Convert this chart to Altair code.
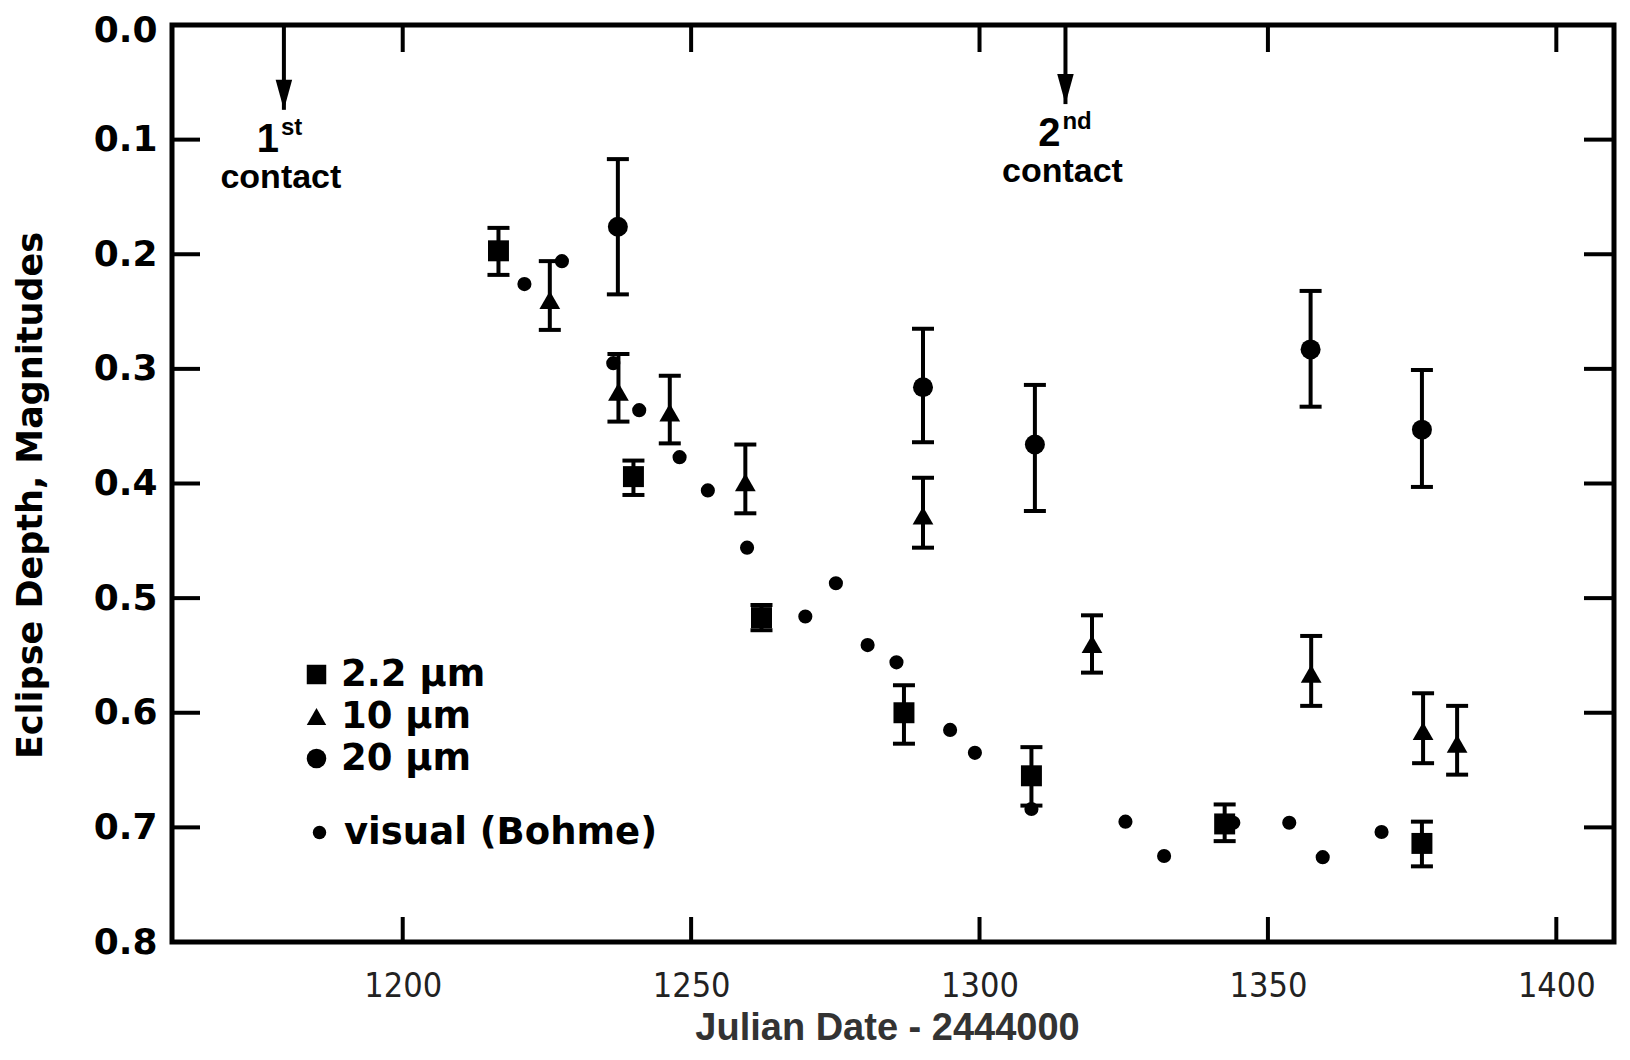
import altair as alt
import pandas as pd

# ---------------- data ----------------
# 2.2 micron (squares)
k_date = [1216.6, 1240.0, 1262.2, 1286.9, 1309.0, 1342.5, 1376.7]
k_depth = [0.197, 0.394, 0.517, 0.600, 0.655, 0.697, 0.714]
k_lo = [0.177, 0.380, 0.506, 0.576, 0.630, 0.680, 0.695]
k_hi = [0.218, 0.410, 0.528, 0.627, 0.681, 0.712, 0.734]

# 10 micron (triangles)
n_date = [1225.5, 1237.4, 1246.3, 1259.4, 1290.2, 1319.5, 1357.5, 1376.9, 1382.8]
n_depth = [0.240, 0.320, 0.338, 0.399, 0.428, 0.540, 0.566, 0.616, 0.627]
n_lo = [0.206, 0.287, 0.306, 0.366, 0.395, 0.515, 0.533, 0.583, 0.594]
n_hi = [0.266, 0.346, 0.365, 0.426, 0.456, 0.565, 0.594, 0.644, 0.654]

# 20 micron (circles)
q_date = [1237.3, 1290.2, 1309.6, 1357.4, 1376.7]
q_depth = [0.176, 0.316, 0.366, 0.283, 0.353]
q_lo = [0.117, 0.265, 0.314, 0.232, 0.301]
q_hi = [0.235, 0.364, 0.424, 0.333, 0.403]

# visual (Bohme)
v_date = [1221.1, 1227.6, 1236.5, 1241.0, 1248.0, 1252.9, 1259.7, 1269.8, 1275.1,
          1280.6, 1285.6, 1294.9, 1299.2, 1309.0, 1325.3, 1332.0, 1344.0, 1353.7,
          1359.5, 1369.7]
v_depth = [0.226, 0.206, 0.295, 0.336, 0.377, 0.406, 0.456, 0.516, 0.487,
           0.541, 0.556, 0.615, 0.635, 0.684, 0.695, 0.725, 0.696, 0.696,
           0.726, 0.704]

band_names = ["2.2 µm", "10 µm", "20 µm"]
band_shapes = ["square", "triangle-up", "circle"]
visual_name = "visual (Bohme)"

# contacts (arrows)
contact_date = [1179.4, 1314.9]
contact_tip = [0.074, 0.069]
contact_num = ["1", "2"]
contact_sup = ["st", "nd"]

x_ticks = [1200, 1250, 1300, 1350, 1400]
y_labels = [0.0, 0.1, 0.2, 0.3, 0.4, 0.5, 0.6, 0.7, 0.8]
y_ticks = [0.1, 0.2, 0.3, 0.4, 0.5, 0.6, 0.7]

# ---------------- tables ----------------
k_df = pd.DataFrame({"date": k_date, "depth": k_depth, "lo": k_lo, "hi": k_hi, "band": band_names[0]})
n_df = pd.DataFrame({"date": n_date, "depth": n_depth, "lo": n_lo, "hi": n_hi, "band": band_names[1]})
q_df = pd.DataFrame({"date": q_date, "depth": q_depth, "lo": q_lo, "hi": q_hi, "band": band_names[2]})
ir = pd.concat([k_df, n_df, q_df], ignore_index=True)
vis = pd.DataFrame({"date": v_date, "depth": v_depth, "src": visual_name})
contacts = pd.DataFrame({"date": contact_date, "tip": contact_tip,
                         "num": contact_num, "sup": contact_sup, "word": "contact"})
xt = pd.DataFrame({"t": x_ticks})
yt = pd.DataFrame({"t": y_ticks})

W, H = 1442, 917
INK = "#000000"

xscale = alt.Scale(domain=[1160, 1410], nice=False, zero=False)
yscale = alt.Scale(domain=[0, 0.8], reverse=True, nice=False, zero=False)

xaxis = alt.Axis(
    values=x_ticks, format="d", ticks=False, domain=False, grid=False,
    labelFont="Liberation Sans Narrow, DejaVu Sans Condensed, sans-serif",
    labelFontSize=34, labelColor="#222222", labelPadding=27,
    labelFlush=False, labelOverlap=False,
    title="Julian Date - 2444000", titleFont="Liberation Sans",
    titleFontWeight="bold", titleFontSize=38, titleColor="#333333",
    titleX=715, titleY=97, titleBaseline="alphabetic", titleAlign="center",
)
yaxis = alt.Axis(
    values=y_labels, format=".1f", ticks=False, domain=False, grid=False,
    labelFont="DejaVu Sans", labelFontWeight="bold", labelFontSize=36,
    labelColor=INK, labelPadding=15, labelFlush=False, labelOverlap=False,
    labelOffset={"condition": {"test": "datum.value === 0", "value": 5}, "value": 0},
    title="Eclipse Depth, Magnitudes", titleFont="DejaVu Sans",
    titleFontWeight="bold", titleFontSize=35, titleColor=INK,
    titleX=-142, titleY=470, titleAngle=270, titleAlign="center",
    titleBaseline="middle",
)

X = alt.X("date:Q", scale=xscale, axis=xaxis)
Y = alt.Y("depth:Q", scale=yscale, axis=yaxis)

# error bars
bars = alt.Chart(ir).mark_rule(color=INK, strokeWidth=4).encode(
    x=X, y=alt.Y("lo:Q", scale=yscale, axis=yaxis), y2="hi:Q"
)
caps = alt.Chart(ir).transform_fold(["lo", "hi"], as_=["end", "cap"]).mark_tick(
    color=INK, orient="horizontal", thickness=4, size=22, opacity=1
).encode(x=X, y=alt.Y("cap:Q", scale=yscale, axis=yaxis))

# IR symbols (one layer per band, shared shape scale -> one legend)
shape_enc = alt.Shape(
    "band:N", scale=alt.Scale(domain=band_names, range=band_shapes),
    legend=alt.Legend(
        title=None, orient="none", legendX=126, legendY=631,
        symbolSize=380, symbolFillColor=INK, symbolStrokeColor=INK,
        symbolStrokeWidth=0, labelFont="DejaVu Sans", labelFontWeight="bold",
        labelFontSize=37, labelColor=INK, labelOffset=6, labelLimit=0,
        rowPadding=4, padding=0),
)


def ir_layer(df, size):
    return alt.Chart(df).mark_point(
        filled=True, color=INK, opacity=1, strokeWidth=0, size=size
    ).encode(x=X, y=Y, shape=shape_enc)


k_pts = ir_layer(k_df, 440)
n_pts = ir_layer(n_df, 430)
q_pts = ir_layer(q_df, 400)

# visual points
vis_pts = alt.Chart(vis).mark_point(filled=True, opacity=1, size=200, strokeWidth=0).encode(
    x=X, y=Y,
    color=alt.Color("src:N", scale=alt.Scale(domain=[visual_name], range=[INK]),
                    legend=alt.Legend(
                        title=None, orient="none", legendX=129, legendY=789,
                        symbolSize=180, symbolType="circle", symbolStrokeWidth=0,
                        labelFont="DejaVu Sans", labelFontWeight="bold",
                        labelFontSize=37, labelColor=INK, labelOffset=6,
                        labelLimit=0, padding=0)),
)

# inward tick marks
left_ticks = alt.Chart(yt).mark_rule(color=INK, strokeWidth=4).encode(
    y=alt.Y("t:Q", scale=yscale, axis=yaxis), x=alt.value(0), x2=alt.value(28))
right_ticks = alt.Chart(yt).mark_rule(color=INK, strokeWidth=4).encode(
    y=alt.Y("t:Q", scale=yscale, axis=yaxis), x=alt.value(W - 30), x2=alt.value(W))
top_ticks = alt.Chart(xt).mark_rule(color=INK, strokeWidth=4).encode(
    x=alt.X("t:Q", scale=xscale, axis=xaxis), y=alt.value(0), y2=alt.value(27))
bottom_ticks = alt.Chart(xt).mark_rule(color=INK, strokeWidth=4).encode(
    x=alt.X("t:Q", scale=xscale, axis=xaxis), y=alt.value(H - 25), y2=alt.value(H))

# contact arrows
cx = alt.X("date:Q", scale=xscale, axis=xaxis)
cy = alt.Y("tip:Q", scale=yscale, axis=yaxis)
shafts = alt.Chart(contacts).mark_rule(color=INK, strokeWidth=4).encode(
    x=cx, y=cy, y2=alt.value(0))
heads = alt.Chart(contacts).mark_point(
    shape="M-0.55,-1L0.55,-1L0,1Z", size=900, filled=True, color=INK,
    opacity=1, strokeWidth=0, yOffset=-15
).encode(x=cx, y=cy)
num_txt = alt.Chart(contacts).mark_text(
    font="Liberation Sans", fontWeight="bold", fontSize=40, color=INK,
    align="center", baseline="alphabetic", dx=-16, dy=42
).encode(x=cx, y=cy, text="num:N")
sup_txt = alt.Chart(contacts).mark_text(
    font="Liberation Sans", fontWeight="bold", fontSize=24, color=INK,
    align="left", baseline="alphabetic", dx=-3, dy=25
).encode(x=cx, y=cy, text="sup:N")
word_txt = alt.Chart(contacts).mark_text(
    font="Liberation Sans", fontWeight="bold", fontSize=34, color=INK,
    align="center", baseline="alphabetic", dx=-3, dy=78
).encode(x=cx, y=cy, text="word:N")

chart = alt.layer(
    left_ticks, right_ticks, top_ticks, bottom_ticks,
    shafts, heads, num_txt, sup_txt, word_txt,
    bars, caps, vis_pts, k_pts, n_pts, q_pts,
).resolve_scale(x="shared", y="shared").properties(
    width=W, height=H,
    autosize=alt.AutoSizeParams(type="none"),
    padding={"left": 164, "top": 17, "right": 4, "bottom": 105},
    background="white",
).configure_view(stroke=INK, strokeWidth=5).configure_axis(grid=False)

chart.save("out.html", embed_options={"renderer": "svg", "actions": False})
